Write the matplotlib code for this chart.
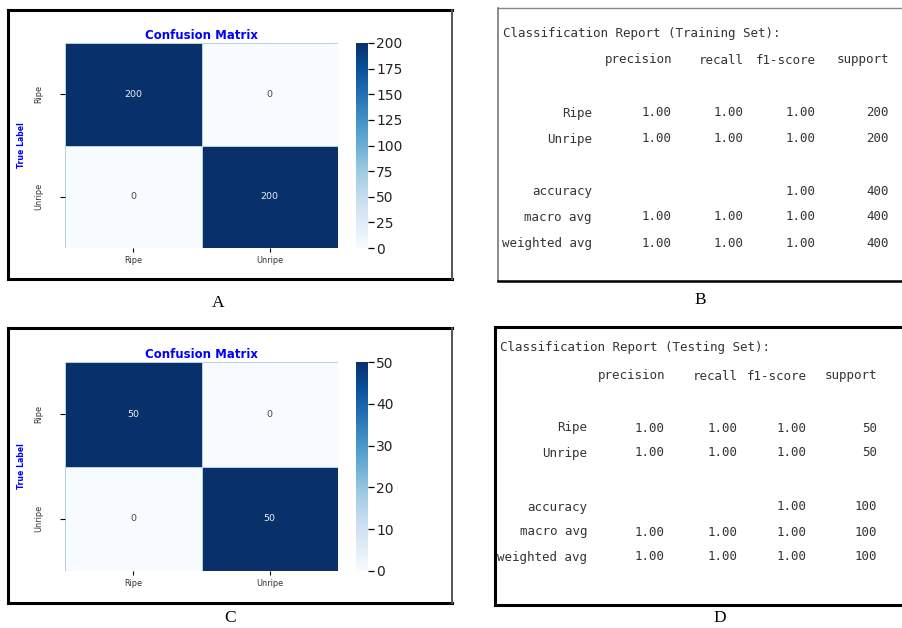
import numpy as np
import matplotlib.pyplot as plt
from matplotlib.lines import Line2D

W, H = 902, 628

classes = ["Ripe", "Unripe"]

cm_train = [[200, 0], [0, 200]]
cm_test = [[50, 0], [0, 50]]

report_cols = ["precision", "recall", "f1-score", "support"]

train_precision = [1.00, 1.00]
train_recall = [1.00, 1.00]
train_f1 = [1.00, 1.00]
train_support = [200, 200]
train_accuracy = 1.00
train_macro = [1.00, 1.00, 1.00]
train_weighted = [1.00, 1.00, 1.00]

test_precision = [1.00, 1.00]
test_recall = [1.00, 1.00]
test_f1 = [1.00, 1.00]
test_support = [50, 50]
test_accuracy = 1.00
test_macro = [1.00, 1.00, 1.00]
test_weighted = [1.00, 1.00, 1.00]


def fx(x):
    return x / W


def fy(y):
    return 1 - y / H


def px_axes(fig, left, top, right, bottom):
    return fig.add_axes([fx(left), fy(bottom), (right - left) / W, (bottom - top) / H])


def line(fig, x0, y0, x1, y1, color="black", lw=2.2):
    fig.add_artist(Line2D([fx(x0), fx(x1)], [fy(y0), fy(y1)],
                          transform=fig.transFigure, color=color, lw=lw,
                          solid_capstyle="projecting"))


def confusion_panel(fig, cm, box, step):
    left, top, right, bottom = box
    cm = np.array(cm)
    ax = px_axes(fig, left, top, right, bottom)
    mesh = ax.pcolormesh(cm, cmap="Blues", vmin=0, vmax=cm.max(),
                         edgecolors="#b9cfe6", linewidth=0.6)
    ax.set_xlim(0, 2)
    ax.set_ylim(2, 0)
    for s in ax.spines.values():
        s.set_visible(False)

    for i in range(2):
        for j in range(2):
            v = cm[i, j]
            col = "#e8eef6" if v > cm.max() / 2 else "#444444"
            ax.text(j + 0.5, i + 0.5, f"{v:d}", ha="center", va="center",
                    fontsize=6.8, color=col)

    ax.set_xticks([0.5, 1.5])
    ax.set_xticklabels(classes, fontsize=5.9, color="#333333")
    ax.set_yticks([0.5, 1.5])
    ax.set_yticklabels(classes, fontsize=5.9, color="#333333", rotation=90,
                       va="center")
    ax.tick_params(axis="x", length=3, width=0.8, pad=3)
    ax.tick_params(axis="y", length=3.5, width=0.8, pad=12)
    ax.set_ylabel("True Label", color="blue", fontsize=6.2,
                  fontweight="bold", labelpad=6, fontstretch="condensed")
    ax.set_title("Confusion Matrix", color="blue", fontsize=8.5,
                 fontweight="bold", pad=3)

    cax = px_axes(fig, right + 18, top, right + 30, bottom)
    cb = fig.colorbar(mesh, cax=cax)
    cb.outline.set_visible(False)
    cb.set_ticks(np.arange(0, cm.max() + 1, step))
    cb.ax.tick_params(labelsize=10, length=4, width=0.9, pad=2,
                      labelcolor="#222222")
    return ax


def report_panel(fig, title, names, prec, rec, f1, supp, acc, macro, weighted,
                 title_xy, label_right, col_right, rows_y):
    kw = dict(family="DejaVu Sans Mono", fontsize=9.0, color="#333333",
              va="center")
    fig.text(fx(title_xy[0]), fy(title_xy[1]), title, ha="left", **kw)

    header_y, r1, r2, acc_y, mac_y, wei_y = rows_y
    for name, xr in zip(report_cols, col_right):
        fig.text(fx(xr), fy(header_y), name, ha="right", **kw)

    total = sum(supp)
    rows = [
        (names[0], [prec[0], rec[0], f1[0]], supp[0], r1),
        (names[1], [prec[1], rec[1], f1[1]], supp[1], r2),
        ("macro avg", macro, total, mac_y),
        ("weighted avg", weighted, total, wei_y),
    ]
    for name, vals, s, y in rows:
        fig.text(fx(label_right), fy(y), name, ha="right", **kw)
        for v, xr in zip(vals, col_right[:3]):
            fig.text(fx(xr), fy(y), f"{v:.2f}", ha="right", **kw)
        fig.text(fx(col_right[3]), fy(y), f"{s}", ha="right", **kw)

    fig.text(fx(label_right), fy(acc_y), "accuracy", ha="right", **kw)
    fig.text(fx(col_right[2]), fy(acc_y), f"{acc:.2f}", ha="right", **kw)
    fig.text(fx(col_right[3]), fy(acc_y), f"{total}", ha="right", **kw)


fig = plt.figure(figsize=(W / 100, H / 100), dpi=100)
fig.patch.set_facecolor("white")

# A: training confusion matrix
confusion_panel(fig, cm_train, (65, 43, 338, 248), 25)
line(fig, 8, 10, 452, 10)
line(fig, 8, 10, 8, 279)
line(fig, 8, 279, 452, 279)
line(fig, 452, 10, 452, 279, color="#555555", lw=1.4)

# C: testing confusion matrix
confusion_panel(fig, cm_test, (65, 362, 338, 571), 10)
line(fig, 8, 328, 452, 328)
line(fig, 8, 328, 8, 603)
line(fig, 8, 603, 452, 603)
line(fig, 452, 328, 452, 603, color="#555555", lw=1.4)

# B: training report
report_panel(fig, "Classification Report (Training Set):", classes,
             train_precision, train_recall, train_f1, train_support,
             train_accuracy, train_macro, train_weighted,
             (503, 34), 592, [672, 744, 816, 889],
             [60, 113, 139, 192, 217, 243])
line(fig, 498, 8, 905, 8, color="#888888", lw=1.0)
line(fig, 498, 8, 498, 281, color="#777777", lw=1.2)
line(fig, 498, 281, 905, 281, lw=1.8)

# D: testing report
report_panel(fig, "Classification Report (Testing Set):", classes,
             test_precision, test_recall, test_f1, test_support,
             test_accuracy, test_macro, test_weighted,
             (500, 348), 587, [665, 738, 807, 877],
             [376, 428, 453, 507, 532, 557])
line(fig, 495, 327, 905, 327)
line(fig, 495, 327, 495, 605)
line(fig, 495, 605, 905, 605)

# panel letters
for letter, x, y in [("A", 218, 303), ("B", 700, 300), ("C", 230, 618), ("D", 720, 618)]:
    fig.text(fx(x), fy(y), letter, ha="center", va="center",
             family="Liberation Serif", fontsize=12.5, color="black")

fig.savefig("out.png", dpi=100)
